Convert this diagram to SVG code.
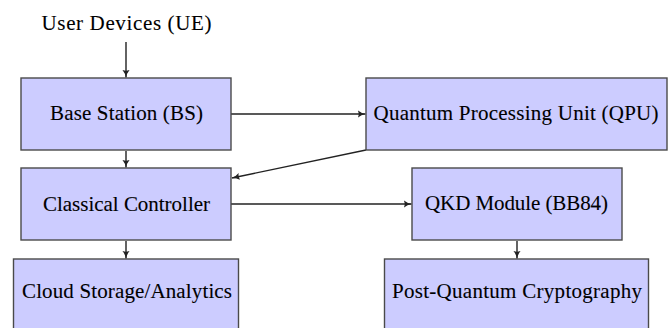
<svg xmlns="http://www.w3.org/2000/svg" width="671" height="328" viewBox="0 0 671 328">
  <style>
    .box { fill: #ccccff; stroke: #4a4a4a; stroke-width: 1.4; }
    .lbl { font-size: 21px; fill: #000000; stroke: #000000; stroke-width: 0.1; text-anchor: middle; }
    .edge { fill: none; stroke: #222; stroke-width: 1.4; marker-end: url(#tip); }
  </style>
  <defs>
    <marker id="tip" viewBox="0 0 10 10" refX="9.5" refY="5" markerWidth="8" markerHeight="8" markerUnits="userSpaceOnUse" orient="auto">
      <path d="M0,0.5 Q4,4 10,5 Q4,6 0,9.5 Q2,5 0,0.5 Z" fill="#222"/>
    </marker>
  </defs>

  <rect width="671" height="328" fill="#ffffff"/>

  <!-- connectors -->
  <g id="connectors">
    <line class="edge" x1="126" y1="42" x2="126" y2="77.5"/>
    <line class="edge" x1="126" y1="151" x2="126" y2="167.5"/>
    <line class="edge" x1="126" y1="241" x2="126" y2="258.5"/>
    <line class="edge" x1="231" y1="114" x2="365.5" y2="114"/>
    <line class="edge" x1="366" y1="150" x2="232" y2="178"/>
    <line class="edge" x1="231" y1="204" x2="411.5" y2="204"/>
    <line class="edge" x1="517" y1="241" x2="517" y2="258.5"/>
  </g>

  <!-- nodes -->
  <g font-family="'Liberation Serif', 'Times New Roman', 'DejaVu Serif', serif">
    <g id="ue">
      <text class="lbl" x="126.5" y="30" textLength="170" lengthAdjust="spacing">User Devices (UE)</text>
    </g>
    <g id="bs">
      <rect class="box" x="21" y="78" width="210" height="72"/>
      <text class="lbl" x="126.5" y="120" textLength="153" lengthAdjust="spacing">Base Station (BS)</text>
    </g>
    <g id="qpu">
      <rect class="box" x="366" y="78" width="301" height="72"/>
      <text class="lbl" x="516" y="120" textLength="285" lengthAdjust="spacing">Quantum Processing Unit (QPU)</text>
    </g>
    <g id="cc">
      <rect class="box" x="21" y="168" width="210" height="72"/>
      <text class="lbl" x="126.5" y="211" textLength="167" lengthAdjust="spacing">Classical Controller</text>
    </g>
    <g id="qkd">
      <rect class="box" x="412" y="168" width="210" height="72"/>
      <text class="lbl" x="516.5" y="210" textLength="183" lengthAdjust="spacing">QKD Module (BB84)</text>
    </g>
    <g id="cloud">
      <rect class="box" x="13.5" y="259" width="225" height="80"/>
      <text class="lbl" x="127" y="298" textLength="210" lengthAdjust="spacing">Cloud Storage/Analytics</text>
    </g>
    <g id="pqc">
      <rect class="box" x="384.5" y="259" width="264" height="80"/>
      <text class="lbl" x="517" y="298" textLength="250" lengthAdjust="spacing">Post-Quantum Cryptography</text>
    </g>
  </g>
</svg>
